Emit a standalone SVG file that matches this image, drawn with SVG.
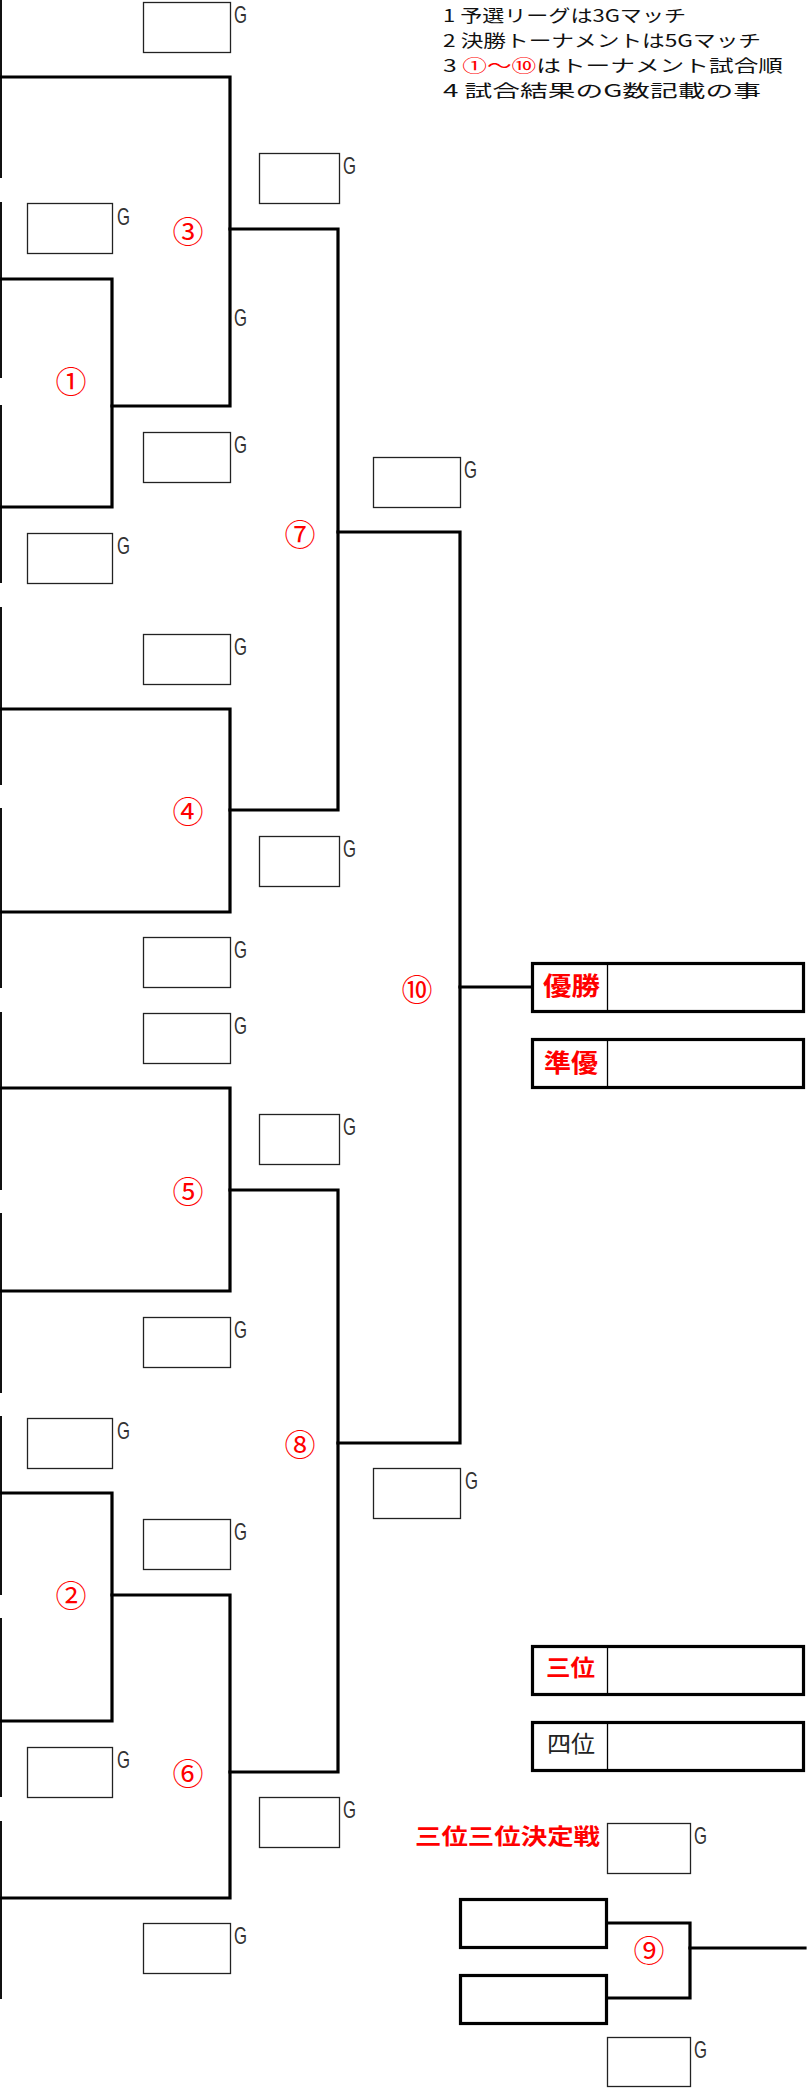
<svg xmlns="http://www.w3.org/2000/svg" width="811" height="2089" viewBox="0 0 811 2089">
<style>
.bg{fill:#fff}
.sb{fill:#fff;stroke:#222;stroke-width:1.3}
.tb{fill:#fff;stroke:#000;stroke-width:3.2}
.ln{fill:none;stroke:#000;stroke-width:3.2;stroke-linecap:square}
.edge{fill:none;stroke:#111;stroke-width:2}
.div{stroke:#000;stroke-width:1.3}
.g{font-family:"Liberation Sans","DejaVu Sans",sans-serif;font-size:24px;fill:#333}
.num{font-family:"Noto Sans CJK JP","DejaVu Sans",sans-serif;font-size:31px;fill:#f00;text-anchor:middle;dominant-baseline:central}
.note{font-family:"Noto Sans CJK JP",sans-serif;font-size:17px;fill:#111}
.red{fill:#f00}
.lab{font-family:"Noto Sans CJK JP",sans-serif;font-weight:bold;fill:#f00}
.lab2{font-family:"Noto Sans CJK JP",sans-serif;fill:#222}
</style>
<rect class="bg" x="0" y="0" width="811" height="2089"/>

<g id="notes">
<text class="note" x="443" y="22" textLength="243" lengthAdjust="spacingAndGlyphs">1 予選リーグは3Gマッチ</text>
<text class="note" x="443" y="47" textLength="318" lengthAdjust="spacingAndGlyphs">2 決勝トーナメントは5Gマッチ</text>
<text class="note" x="443" y="72" textLength="340" lengthAdjust="spacingAndGlyphs">3 <tspan class="red">①～⑩</tspan>はトーナメント試合順</text>
<text class="note" x="443" y="97" textLength="318" lengthAdjust="spacingAndGlyphs">4 試合結果のG数記載の事</text>
</g>

<g id="left-edge">
<path class="edge" d="M1,0V178M1,202V378M1,405V583M1,607V785M1,808V988M1,1012V1190M1,1213V1393M1,1416V1595M1,1618V1797M1,1821V1999"/>
</g>

<g id="connectors">
<path class="ln" d="M0,77H230V406H112"/>
<path class="ln" d="M0,279H112V507H0"/>
<path class="ln" d="M230,229H338V810H230"/>
<path class="ln" d="M0,709H230V912H0"/>
<path class="ln" d="M338,532H460V1443H338"/>
<path class="ln" d="M0,1088H230V1291H0"/>
<path class="ln" d="M230,1190H338V1772H230"/>
<path class="ln" d="M0,1493H112V1721H0"/>
<path class="ln" d="M112,1595H230V1898H0"/>
<path class="ln" d="M460,987H531"/>
<path class="ln" d="M607,1923H690V1998H607"/>
<path class="ln" d="M690,1948H805"/>
</g>

<g id="match-labels">
<text class="num" x="71" y="379">①</text>
<text class="num" x="71" y="1593">②</text>
<text class="num" x="188" y="229">③</text>
<text class="num" x="188" y="809">④</text>
<text class="num" x="188" y="1189">⑤</text>
<text class="num" x="188" y="1771">⑥</text>
<text class="num" x="300" y="532">⑦</text>
<text class="num" x="300" y="1442">⑧</text>
<text class="num" x="649" y="1948">⑨</text>
<text class="num" x="417" y="987">⑩</text>
</g>

<g id="score-a1"><rect class="sb" x="143.5" y="2.5" width="87" height="50"/><text class="g" x="234" y="23" textLength="13" lengthAdjust="spacingAndGlyphs">G</text></g>
<g id="score-a2"><rect class="sb" x="143.5" y="432.5" width="87" height="50"/><text class="g" x="234" y="453" textLength="13" lengthAdjust="spacingAndGlyphs">G</text></g>
<g id="score-a3"><rect class="sb" x="143.5" y="634.5" width="87" height="50"/><text class="g" x="234" y="655" textLength="13" lengthAdjust="spacingAndGlyphs">G</text></g>
<g id="score-a4"><rect class="sb" x="143.5" y="937.5" width="87" height="50"/><text class="g" x="234" y="958" textLength="13" lengthAdjust="spacingAndGlyphs">G</text></g>
<g id="score-a5"><rect class="sb" x="143.5" y="1013.5" width="87" height="50"/><text class="g" x="234" y="1034" textLength="13" lengthAdjust="spacingAndGlyphs">G</text></g>
<g id="score-a6"><rect class="sb" x="143.5" y="1317.5" width="87" height="50"/><text class="g" x="234" y="1338" textLength="13" lengthAdjust="spacingAndGlyphs">G</text></g>
<g id="score-a7"><rect class="sb" x="143.5" y="1519.5" width="87" height="50"/><text class="g" x="234" y="1540" textLength="13" lengthAdjust="spacingAndGlyphs">G</text></g>
<g id="score-a8"><rect class="sb" x="143.5" y="1923.5" width="87" height="50"/><text class="g" x="234" y="1944" textLength="13" lengthAdjust="spacingAndGlyphs">G</text></g>

<g id="score-b1"><rect class="sb" x="27.5" y="203.5" width="85" height="50"/><text class="g" x="117" y="225" textLength="13" lengthAdjust="spacingAndGlyphs">G</text></g>
<g id="score-b2"><rect class="sb" x="27.5" y="533.5" width="85" height="50"/><text class="g" x="117" y="554" textLength="13" lengthAdjust="spacingAndGlyphs">G</text></g>
<g id="score-b3"><rect class="sb" x="27.5" y="1418.5" width="85" height="50"/><text class="g" x="117" y="1439" textLength="13" lengthAdjust="spacingAndGlyphs">G</text></g>
<g id="score-b4"><rect class="sb" x="27.5" y="1747.5" width="85" height="50"/><text class="g" x="117" y="1768" textLength="13" lengthAdjust="spacingAndGlyphs">G</text></g>

<g id="score-c1"><rect class="sb" x="259.5" y="153.5" width="80" height="50"/><text class="g" x="343" y="174" textLength="13" lengthAdjust="spacingAndGlyphs">G</text></g>
<g id="score-c2"><rect class="sb" x="259.5" y="836.5" width="80" height="50"/><text class="g" x="343" y="857" textLength="13" lengthAdjust="spacingAndGlyphs">G</text></g>
<g id="score-c3"><rect class="sb" x="259.5" y="1114.5" width="80" height="50"/><text class="g" x="343" y="1135" textLength="13" lengthAdjust="spacingAndGlyphs">G</text></g>
<g id="score-c4"><rect class="sb" x="259.5" y="1797.5" width="80" height="50"/><text class="g" x="343" y="1818" textLength="13" lengthAdjust="spacingAndGlyphs">G</text></g>

<g id="score-d1"><rect class="sb" x="373.5" y="457.5" width="87" height="50"/><text class="g" x="464" y="478" textLength="13" lengthAdjust="spacingAndGlyphs">G</text></g>
<g id="score-d2"><rect class="sb" x="373.5" y="1468.5" width="87" height="50"/><text class="g" x="465" y="1489" textLength="13" lengthAdjust="spacingAndGlyphs">G</text></g>

<g id="score-3rd-top"><rect class="sb" x="607.5" y="1823.5" width="83" height="50"/><text class="g" x="694" y="1844" textLength="13" lengthAdjust="spacingAndGlyphs">G</text></g>
<g id="score-3rd-bottom"><rect class="sb" x="607.5" y="2037.5" width="83" height="49"/><text class="g" x="694" y="2058" textLength="13" lengthAdjust="spacingAndGlyphs">G</text></g>

<g id="g-loose"><text class="g" x="234" y="326" textLength="13" lengthAdjust="spacingAndGlyphs">G</text></g>

<g id="champion"><rect class="tb" x="532.5" y="963.5" width="271" height="48"/><line class="div" x1="607.5" y1="963" x2="607.5" y2="1012"/><text class="lab" x="543" y="995" font-size="25" textLength="57" lengthAdjust="spacingAndGlyphs">優勝</text></g>
<g id="runner-up"><rect class="tb" x="532.5" y="1039.5" width="271" height="48"/><line class="div" x1="607.5" y1="1039" x2="607.5" y2="1088"/><text class="lab" x="544" y="1072" font-size="25" textLength="54" lengthAdjust="spacingAndGlyphs">準優</text></g>
<g id="third"><rect class="tb" x="532.5" y="1646.5" width="271" height="48"/><line class="div" x1="607.5" y1="1646" x2="607.5" y2="1695"/><text class="lab" x="546" y="1676" font-size="23" textLength="49" lengthAdjust="spacingAndGlyphs">三位</text></g>
<g id="fourth"><rect class="tb" x="532.5" y="1722.5" width="271" height="48"/><line class="div" x1="607.5" y1="1722" x2="607.5" y2="1771"/><text class="lab2" x="547" y="1752" font-size="23" textLength="48" lengthAdjust="spacingAndGlyphs">四位</text></g>

<g id="third-place-title"><text class="lab" x="415" y="1844" font-size="22" textLength="185" lengthAdjust="spacingAndGlyphs">三位三位決定戦</text></g>

<g id="semi-loser-1"><rect class="tb" x="460.5" y="1899.5" width="146" height="48"/></g>
<g id="semi-loser-2"><rect class="tb" x="460.5" y="1975.5" width="146" height="48"/></g>
</svg>
